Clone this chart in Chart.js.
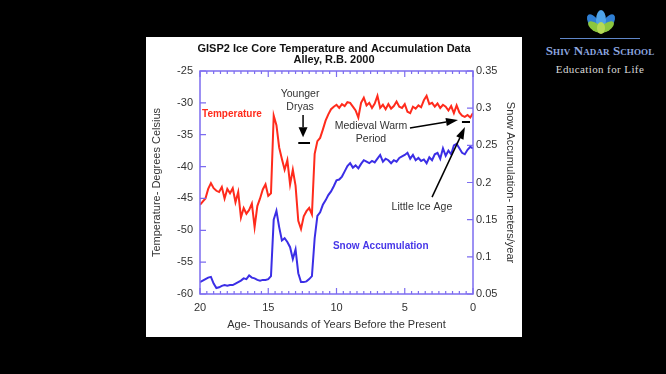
<!DOCTYPE html>
<html>
<head>
<meta charset="utf-8">
<script src="https://cdn.jsdelivr.net/npm/chart.js@4.4.1/dist/chart.umd.min.js"></script>
<style>
  html, body { margin: 0; padding: 0; background: #000; width: 666px; height: 374px; overflow: hidden; }
  #panel { position: absolute; left: 146px; top: 37px; width: 376px; height: 300px; background: #fff; }
  #lotus { position: absolute; left: 582px; top: 9px; }
  #rule { position: absolute; left: 560px; top: 38px; width: 80px; height: 1px; background: #5f86c8; }
  #school { position: absolute; left: 530px; top: 43px; width: 140px; text-align: center;
            font-family: "Liberation Serif", serif; font-variant: small-caps; font-size: 13px; font-weight: bold;
            color: #8fa9e0; letter-spacing: 0.1px; }
  #motto { position: absolute; left: 530px; top: 63px; width: 140px; text-align: center;
           font-family: "Liberation Serif", serif; font-size: 11px; color: #d8d8d8; letter-spacing: 0.4px; }
</style>
</head>
<body>
<div id="panel"><canvas id="myChart" width="376" height="300"></canvas></div>

<svg id="lotus" width="38" height="26" viewBox="0 0 38 26">
  <ellipse cx="12" cy="14" rx="5" ry="10" transform="rotate(-35 12 14)" fill="#2f7fd4"/>
  <ellipse cx="26" cy="14" rx="5" ry="10" transform="rotate(35 26 14)" fill="#2f7fd4"/>
  <ellipse cx="19" cy="11" rx="5" ry="10" fill="#4fa3e8"/>
  <ellipse cx="13" cy="18" rx="4" ry="8" transform="rotate(-55 13 18)" fill="#8cc63f"/>
  <ellipse cx="25" cy="18" rx="4" ry="8" transform="rotate(55 25 18)" fill="#8cc63f"/>
  <ellipse cx="19" cy="19" rx="4" ry="6" fill="#b5d957"/>
</svg>
<div id="rule"></div>
<div id="school">Shiv Nadar School</div>
<div id="motto">Education for Life</div>

<script>
// GISP2 - thousands of years before present
let ages = [20.0, 19.8, 19.6, 19.4, 19.2, 19.0, 18.8, 18.6, 18.4, 18.2,
            18.0, 17.8, 17.6, 17.4, 17.2, 17.0, 16.8, 16.6, 16.4, 16.2,
            16.0, 15.8, 15.6, 15.4, 15.2, 15.0, 14.8, 14.6, 14.4, 14.2,
            14.0, 13.8, 13.6, 13.4, 13.2, 13.0, 12.8, 12.6, 12.4, 12.2,
            12.0, 11.8, 11.6, 11.4, 11.2, 11.0, 10.8, 10.6, 10.4, 10.2,
            10.0, 9.8, 9.6, 9.4, 9.2, 9.0, 8.8, 8.6, 8.4, 8.2,
            8.0, 7.8, 7.6, 7.4, 7.2, 7.0, 6.8, 6.6, 6.4, 6.2,
            6.0, 5.8, 5.6, 5.4, 5.2, 5.0, 4.8, 4.6, 4.4, 4.2,
            4.0, 3.8, 3.6, 3.4, 3.2, 3.0, 2.8, 2.6, 2.4, 2.2,
            2.0, 1.8, 1.6, 1.4, 1.2, 1.0, 0.8, 0.6, 0.4, 0.2, 0.0]

// degrees celsius
let temperature = [-46.0, -45.5, -45.0, -43.5, -42.6, -43.4, -43.8, -44.0, -43.2, -45.0,
                   -43.5, -44.2, -43.4, -45.6, -44.0, -48.0, -46.5, -47.4, -46.8, -45.8,
                   -49.5, -46.2, -45.0, -43.6, -42.8, -44.6, -44.2, -32.0, -33.5, -37.0,
                   -38.8, -40.5, -39.0, -42.8, -40.5, -43.0, -48.5, -49.8, -47.8, -47.0,
                   -46.5, -47.5, -38.0, -36.0, -35.5, -34.2, -32.8, -31.8, -31.0, -30.6,
                   -30.3, -30.8, -30.2, -30.5, -29.9, -30.0, -30.6, -31.2, -32.3, -30.0,
                   -29.2, -30.4, -30.0, -30.8, -30.1, -28.9, -30.8, -30.3, -31.0, -30.2,
                   -30.9, -30.5, -29.8, -30.6, -30.8, -30.2, -31.4, -31.6, -30.6, -30.9,
                   -30.4, -30.7, -29.6, -28.9, -30.2, -30.0, -30.6, -30.1, -30.8, -30.3,
                   -30.6, -31.2, -30.5, -31.6, -30.4, -31.5, -32.0, -32.2, -31.9, -32.3, -31.6]

// meters/year
let accumulation = [0.066, 0.068, 0.070, 0.072, 0.073, 0.064, 0.058, 0.059, 0.061, 0.062,
                    0.061, 0.062, 0.062, 0.064, 0.066, 0.068, 0.071, 0.070, 0.075, 0.072,
                    0.071, 0.069, 0.068, 0.069, 0.069, 0.070, 0.074, 0.150, 0.162, 0.140,
                    0.122, 0.125, 0.120, 0.113, 0.097, 0.110, 0.078, 0.066, 0.066, 0.067,
                    0.070, 0.074, 0.125, 0.155, 0.160, 0.170, 0.176, 0.183, 0.188, 0.195,
                    0.203, 0.204, 0.208, 0.215, 0.222, 0.226, 0.220, 0.223, 0.219, 0.225,
                    0.230, 0.228, 0.226, 0.229, 0.227, 0.232, 0.237, 0.228, 0.232, 0.230,
                    0.226, 0.230, 0.228, 0.233, 0.235, 0.237, 0.240, 0.232, 0.237, 0.230,
                    0.233, 0.229, 0.231, 0.226, 0.234, 0.230, 0.238, 0.240, 0.232, 0.246,
                    0.236, 0.243, 0.238, 0.250, 0.252, 0.246, 0.240, 0.238, 0.244, 0.248, 0.246]

let ageTicks = [0, 5, 10, 15, 20]
let tempTicks = [-60, -55, -50, -45, -40, -35, -30, -25]
let accumTicks = [0.05, 0.1, 0.15, 0.2, 0.25, 0.3, 0.35]

let axisColor = '#7c6cf0'
let textColor = '#333'

let tempPoints = ages.map((a, i) => ({x: a, y: temperature[i]}))
let accumPoints = ages.map((a, i) => ({x: a, y: accumulation[i]}))

// box round the plot with inward ticks, like the original
const frame = {
    id: 'frame',
    afterDatasetsDraw(chart) {
        const {ctx, chartArea: a, scales} = chart
        ctx.save()
        ctx.strokeStyle = axisColor
        ctx.lineWidth = 1.5
        ctx.strokeRect(a.left, a.top, a.right - a.left, a.bottom - a.top)
        ctx.lineWidth = 1.2
        ctx.beginPath()
        for (let v = 0; v <= 20; v += 0.5) {
            const px = scales.x.getPixelForValue(v)
            const len = v % 5 === 0 ? 6 : 3
            ctx.moveTo(px, a.bottom); ctx.lineTo(px, a.bottom - len)
            ctx.moveTo(px, a.top); ctx.lineTo(px, a.top + len)
        }
        tempTicks.forEach(v => {
            const py = scales.y.getPixelForValue(v)
            ctx.moveTo(a.left, py); ctx.lineTo(a.left + 6, py)
        })
        accumTicks.forEach(v => {
            const py = scales.y1.getPixelForValue(v)
            ctx.moveTo(a.right, py); ctx.lineTo(a.right - 6, py)
        })
        ctx.stroke()
        ctx.restore()
    }
}

function arrow(ctx, x1, y1, x2, y2, head, half) {
    const ang = Math.atan2(y2 - y1, x2 - x1)
    const bx = x2 - head * Math.cos(ang), by = y2 - head * Math.sin(ang)
    ctx.beginPath()
    ctx.moveTo(x1, y1); ctx.lineTo(bx, by)
    ctx.stroke()
    ctx.beginPath()
    ctx.moveTo(x2, y2)
    ctx.lineTo(bx + half * Math.sin(ang), by - half * Math.cos(ang))
    ctx.lineTo(bx - half * Math.sin(ang), by + half * Math.cos(ang))
    ctx.closePath()
    ctx.fill()
}

// labels and arrows, placed in data units (age, degrees)
const notes = {
    id: 'notes',
    afterDraw(chart) {
        const {ctx, scales} = chart
        const X = v => scales.x.getPixelForValue(v)
        const Y = v => scales.y.getPixelForValue(v)
        ctx.save()
        ctx.textBaseline = 'middle'

        ctx.font = 'bold 10px "Liberation Sans", Arial, sans-serif'
        ctx.textAlign = 'left'
        ctx.fillStyle = '#ff2b1c'
        ctx.fillText('Temperature', X(19.85), Y(-31.8))
        ctx.fillStyle = '#4636e8'
        ctx.fillText('Snow Accumulation', X(10.26), Y(-52.5))

        ctx.font = '10.5px "Liberation Sans", Arial, sans-serif'
        ctx.textAlign = 'center'
        ctx.fillStyle = textColor
        ctx.fillText('Younger', X(12.67), Y(-28.6))
        ctx.fillText('Dryas', X(12.67), Y(-30.65))
        ctx.fillText('Medieval Warm', X(7.47), Y(-33.6))
        ctx.fillText('Period', X(7.47), Y(-35.7))
        ctx.fillText('Little Ice Age', X(3.74), Y(-46.35))

        ctx.strokeStyle = '#000'
        ctx.fillStyle = '#000'
        ctx.lineWidth = 1.5
        arrow(ctx, X(12.45), Y(-31.9), X(12.45), Y(-35.4), 10, 4.5)
        arrow(ctx, X(4.62), Y(-33.95), X(1.1), Y(-32.7), 12, 4)
        arrow(ctx, X(3.0), Y(-44.8), X(0.59), Y(-33.8), 12, 4)

        ctx.lineWidth = 2
        ctx.beginPath()
        ctx.moveTo(X(12.8), Y(-36.3)); ctx.lineTo(X(11.94), Y(-36.3))
        ctx.moveTo(X(0.81), Y(-33.0)); ctx.lineTo(X(0.22), Y(-33.0))
        ctx.stroke()
        ctx.restore()
    }
}

var ctx = document.getElementById('myChart')

new Chart(ctx, {
    type: 'line',
    data: {
        datasets: [{
            label: 'Temperature',
            data: tempPoints,
            yAxisID: 'y',
            borderColor: '#ff2b1c',
            borderWidth: 2,
            pointRadius: 0,
            tension: 0
        }, {
            label: 'Snow Accumulation',
            data: accumPoints,
            yAxisID: 'y1',
            borderColor: '#3b2ee6',
            borderWidth: 2,
            pointRadius: 0,
            tension: 0
        }]
    },
    options: {
        responsive: false,
        animation: false,
        devicePixelRatio: 1,
        layout: { padding: 0 },
        plugins: {
            legend: { display: false },
            tooltip: { enabled: false },
            title: {
                display: true,
                text: ['GISP2 Ice Core Temperature and Accumulation Data', 'Alley, R.B. 2000'],
                color: '#111',
                font: { family: '"Liberation Sans", Arial, sans-serif', size: 11, weight: 'bold', lineHeight: 1.05 },
                padding: { top: 6, bottom: 4.9 }
            }
        },
        scales: {
            x: {
                type: 'linear',
                reverse: true,
                min: 0,
                max: 20,
                afterBuildTicks: s => { s.ticks = ageTicks.map(v => ({value: v})) },
                afterFit: s => { s.height = 43 },
                grid: { display: false, drawTicks: false },
                border: { display: false },
                ticks: { color: textColor, padding: 7, maxRotation: 0,
                         font: { family: '"Liberation Sans", Arial, sans-serif', size: 11 } },
                title: { display: true, text: 'Age- Thousands of Years Before the Present', color: textColor,
                         font: { family: '"Liberation Sans", Arial, sans-serif', size: 11 },
                         padding: { top: 0, bottom: 5.4 } }
            },
            y: {
                position: 'left',
                min: -60,
                max: -25,
                afterBuildTicks: s => { s.ticks = tempTicks.map(v => ({value: v})) },
                afterFit: s => { s.width = 54 },
                grid: { display: false, drawTicks: false },
                border: { display: false },
                ticks: { color: textColor, padding: 7,
                         font: { family: '"Liberation Sans", Arial, sans-serif', size: 11 } },
                title: { display: true, text: 'Temperature- Degrees Celsius', color: textColor,
                         font: { family: '"Liberation Sans", Arial, sans-serif', size: 11 },
                         padding: { top: 4.4, bottom: 0 } }
            },
            y1: {
                position: 'right',
                min: 0.05,
                max: 0.35,
                afterBuildTicks: s => { s.ticks = accumTicks.map(v => ({value: v})) },
                afterFit: s => { s.width = 49 },
                grid: { display: false, drawTicks: false },
                border: { display: false },
                ticks: { color: textColor, padding: 3,
                         callback: v => String(+v.toFixed(2)),
                         font: { family: '"Liberation Sans", Arial, sans-serif', size: 11 } },
                title: { display: true, text: 'Snow Accumulation- meters/year', color: textColor,
                         font: { family: '"Liberation Sans", Arial, sans-serif', size: 11 },
                         padding: { top: 5.4, bottom: 0 } }
            }
        }
    },
    plugins: [frame, notes]
});
</script>
</body>
</html>
